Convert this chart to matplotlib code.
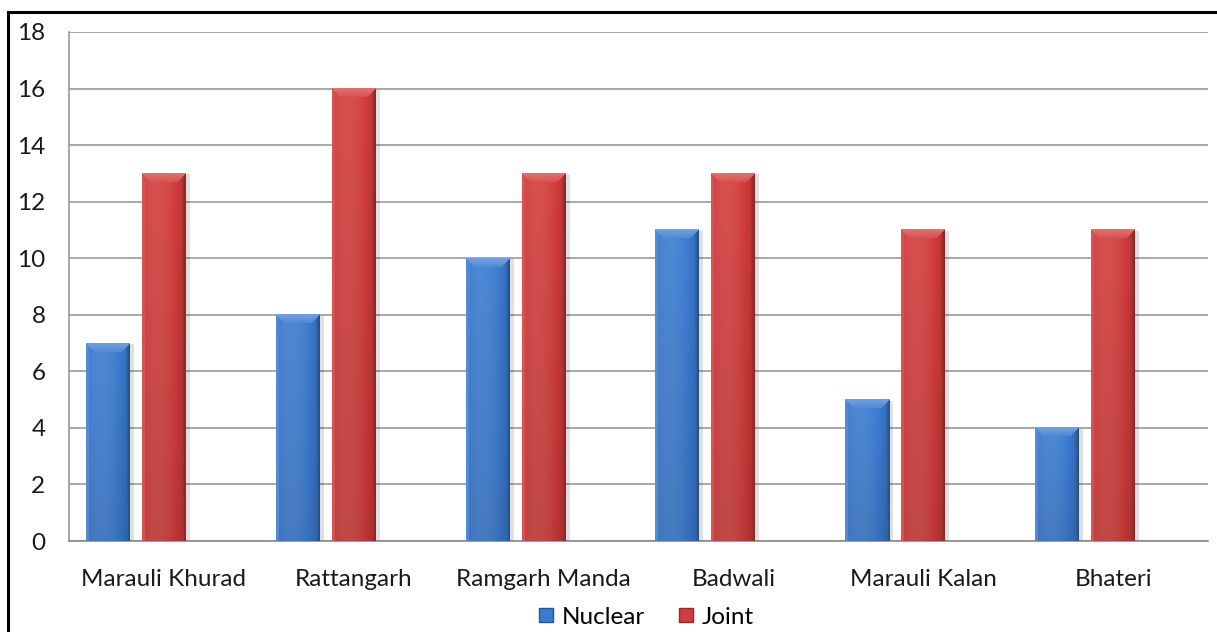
import numpy as np
import matplotlib
matplotlib.use("Agg")
import matplotlib.pyplot as plt
from matplotlib.patches import Rectangle
from matplotlib.lines import Line2D
from matplotlib.colors import to_rgb

plt.rcParams['font.family'] = ['Lato', 'DejaVu Sans']

villages = ["Marauli Khurad", "Rattangarh", "Ramgarh Manda", "Badwali",
            "Marauli Kalan", "Bhateri"]
nuclear = [7, 8, 10, 11, 5, 4]
joint = [13, 16, 13, 13, 11, 11]
y_ticks = [0, 2, 4, 6, 8, 10, 12, 14, 16, 18]

W, H = 1217, 632
fig = plt.figure(figsize=(W / 100, H / 100), dpi=100)
fig.patch.set_facecolor("white")

# outer chart border
fig.add_artist(Rectangle((8 / W, -0.01), 1.02, 1 - 12 / H + 0.01,
                         transform=fig.transFigure, fill=False,
                         edgecolor="black", linewidth=2.2))

ax = fig.add_axes([69 / W, 1 - 541 / H, (1208 - 69) / W, (541 - 32) / H])
ax.set_xlim(0, 6)
ax.set_ylim(0, 18)
ax.set_yticks(y_ticks)
ax.set_xticks(np.arange(6) + 0.5)
ax.set_xticklabels(villages)
ax.tick_params(axis="both", length=0, labelsize=17.5, colors="#1a1a1a")
ax.tick_params(axis="x", pad=20)
ax.tick_params(axis="y", pad=17)
for s in ["top", "right"]:
    ax.spines[s].set_visible(False)
ax.spines["left"].set_color("#9a9a9a")
ax.spines["bottom"].set_color("#8a8a8a")
ax.spines["left"].set_linewidth(1.2)
ax.spines["bottom"].set_linewidth(1.2)
ax.grid(axis="y", color="#9a9a9a", linewidth=1.2)
ax.set_axisbelow(True)

px_x = 6 / (1208 - 69)       # data units per pixel, x
px_y = 18 / (541 - 32)       # data units per pixel, y
bar_w = 44 * px_x
step = 56 * px_x


def shade(c, f):
    c = np.array(to_rgb(c))
    if f >= 0:
        return c + (1 - c) * f
    return c * (1 + f)


def bevel_bar(x0, val, base):
    nx = 44
    ny = max(int(round(val / px_y)), 1)
    img = np.zeros((ny, nx, 3))
    bev = 9
    for j in range(ny):
        t = j  # rows from top
        for i in range(nx):
            l, r = i, nx - 1 - i
            u = (i + 0.5) / nx
            col = shade(base, 0.10 - 0.30 * (u - 0.35) ** 2 * 2)
            # slight darkening toward bottom
            col = col * (1 - 0.10 * (j / ny))
            if t < bev and t <= l and t <= r:
                col = shade(base, 0.28 - 0.02 * t)
            elif l < 3 and l < t:
                col = shade(base, 0.12)
            elif r < 4 and r < t:
                col = shade(base, -0.35 + 0.06 * r)
            img[j, i] = np.clip(col, 0, 1)
    # drop shadow
    ax.add_patch(Rectangle((x0 + 2 * px_x, 0), bar_w + 2 * px_x, val - 1 * px_y,
                           facecolor="#000000", alpha=0.12, edgecolor="none",
                           zorder=2))
    ax.imshow(img, extent=(x0, x0 + bar_w, 0, val), aspect="auto",
              interpolation="bilinear", zorder=3)


blue = "#3b7bd0"
red = "#d23c3c"
for k in range(6):
    center = k + 0.5
    bevel_bar(center - step - bar_w / 2, nuclear[k], blue)
    bevel_bar(center - bar_w / 2, joint[k], red)

ax.set_xlim(0, 6)
ax.set_ylim(0, 18)

# legend
handles = [Line2D([], [], marker="s", linestyle="none", markersize=10,
                  markerfacecolor=blue, markeredgecolor=shade(blue, -0.3)),
           Line2D([], [], marker="s", linestyle="none", markersize=10,
                  markerfacecolor=red, markeredgecolor=shade(red, -0.3))]
fig.legend(handles, ["Nuclear", "Joint"], loc="center",
           bbox_to_anchor=(645 / W, 1 - 617 / H), ncol=2, frameon=False,
           fontsize=17.5, handletextpad=0.25, columnspacing=1.3,
           handlelength=0.8)

fig.savefig("out.png", dpi=100)
